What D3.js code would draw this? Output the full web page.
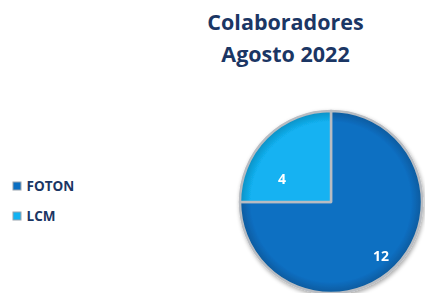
<!DOCTYPE html>
<html><head><meta charset="utf-8">
<script src="https://cdn.jsdelivr.net/npm/d3@7"></script>
<style>html,body{margin:0;padding:0;background:#fff;}svg{display:block;}</style>
</head><body>
<svg id="c" width="425" height="293"></svg>
<script>
const categories = ["FOTON", "LCM"];
const values = [12, 4];
const colors = ["#0A6FC2", "#12B2F2"];
const titleLines = ["Colaboradores", "Agosto 2022"];

const svg = d3.select("#c");
const defs = svg.append("defs");
const f = defs.append("filter").attr("id","sh").attr("x","-20%").attr("y","-20%").attr("width","140%").attr("height","140%");
f.append("feGaussianBlur").attr("in","SourceAlpha").attr("stdDeviation",2).attr("result","b");
f.append("feOffset").attr("in","b").attr("dx",1).attr("dy",2).attr("result","o");
f.append("feComponentTransfer").attr("in","o").attr("result","o2").append("feFuncA").attr("type","linear").attr("slope",0.35);
const m = f.append("feMerge"); m.append("feMergeNode").attr("in","o2"); m.append("feMergeNode").attr("in","SourceGraphic");

colors.forEach((c,i)=>{
  const g = defs.append("radialGradient").attr("id","g"+i).attr("gradientUnits","userSpaceOnUse")
    .attr("cx",0).attr("cy",0).attr("r",91);
  g.append("stop").attr("offset","0%").attr("stop-color",c);
  g.append("stop").attr("offset","88%").attr("stop-color",c);
  g.append("stop").attr("offset","100%").attr("stop-color",d3.color(c).darker(0.6));
});

svg.append("g").selectAll("text").data(titleLines).join("text")
  .attr("x",285.5).attr("y",(d,i)=>30+i*32)
  .attr("text-anchor","middle")
  .attr("font-family","'Open Sans', 'Liberation Sans', sans-serif")
  .attr("font-weight","bold").attr("font-size",21.5)
  .attr("fill","#1B3664").text(d=>d);

const cx = 331, cy = 202, r = 91;
const pie = d3.pie().sort(null).value(d=>d.v);
const arcs = pie(categories.map((c,i)=>({c, v: values[i], i})));
const arc = d3.arc().innerRadius(0).outerRadius(r);
const pg = svg.append("g").attr("transform",`translate(${cx},${cy})`).attr("filter","url(#sh)");
pg.selectAll("path").data(arcs).join("path")
  .attr("d",arc).attr("fill",d=>`url(#g${d.data.i})`)
  .attr("stroke","#B8BCC2").attr("stroke-width",2.5).attr("stroke-linejoin","round");

const lpos = [[50,53],[-49,-24]];
pg.selectAll("text").data(arcs).join("text")
  .attr("x",d=>lpos[d.index][0]).attr("y",d=>lpos[d.index][1])
  .attr("text-anchor","middle").attr("dominant-baseline","central")
  .attr("font-family","'Open Sans', 'Liberation Sans', sans-serif")
  .attr("font-weight","bold").attr("font-size",14)
  .attr("fill","#fff").text(d=>d.data.v);

const lg = svg.append("g").selectAll("g").data(categories).join("g")
  .attr("transform",(d,i)=>`translate(13,${186+i*30})`);
lg.append("rect").attr("x",0).attr("y",-4).attr("width",8).attr("height",8)
  .attr("fill",(d,i)=>colors[i]).attr("stroke","#9AA3AE").attr("stroke-width",1);
lg.append("text").attr("x",13.5).attr("y",0).attr("dominant-baseline","central")
  .attr("font-family","'Open Sans', 'Liberation Sans', sans-serif")
  .attr("font-weight","bold").attr("font-size",13.5)
  .attr("fill","#1B3664").text(d=>d);
</script>
</body></html>
